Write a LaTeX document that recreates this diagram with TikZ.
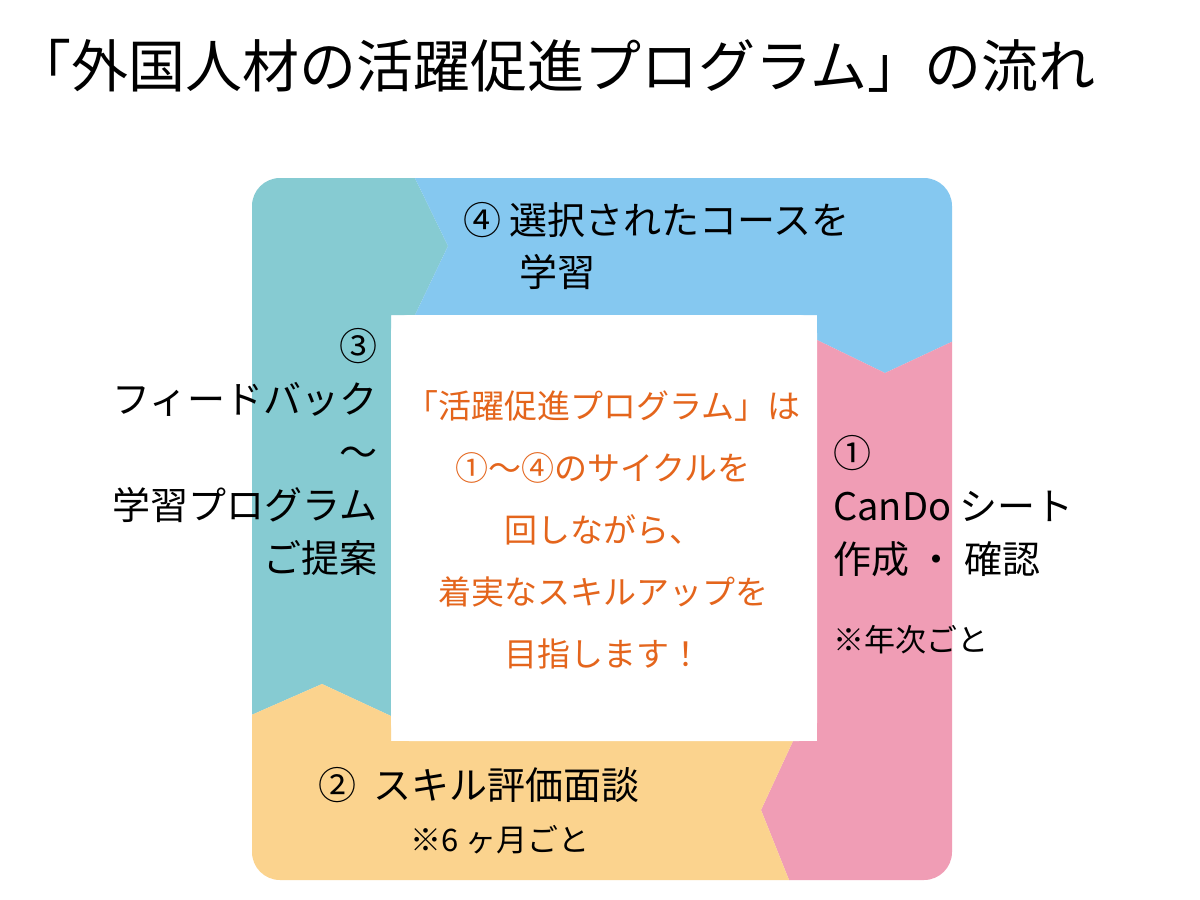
\documentclass[tikz,border=0pt]{standalone}
\usepackage{fontspec}
\setmainfont{Noto Sans CJK JP}
\definecolor{tealseg}{HTML}{86CBD2}
\definecolor{blueseg}{HTML}{85C8F0}
\definecolor{pinkseg}{HTML}{F09DB5}
\definecolor{orangeseg}{HTML}{FBD38E}
\definecolor{msgtext}{HTML}{E4651C}
\tikzset{
  steplabel/.style={font=\fontsize{38}{53}\selectfont, inner sep=0pt},
  notelabel/.style={font=\fontsize{31}{36}\selectfont, inner sep=0pt},
  msglabel/.style={font=\fontsize{33}{62}\selectfont, text=msgtext, align=center, inner sep=0pt}
}
\begin{document}
\begin{tikzpicture}[x=1pt,y=-1pt]
    \useasboundingbox (0,0) rectangle (1200,900);
    \fill[white] (0,0) rectangle (1200,900);

    % Title
    \node[font=\fontsize{57}{60}\selectfont, anchor=west, inner sep=0pt] (title) at (14,66) {「外国人材の活躍促進プログラム」の流れ};

    % Cycle segments
    \begin{scope}
        \clip[rounded corners=28pt] (252,178) rectangle (952,880);
        \fill[tealseg] (240,170) -- (411,170) -- (448,246) -- (415,315) -- (391,315)
            -- (391,716) -- (322,684) -- (240,720) -- cycle;
        \fill[blueseg] (411,170) -- (960,170) -- (960,338) -- (885,373) -- (817,340)
            -- (817,315) -- (415,315) -- (448,246) -- cycle;
        \fill[pinkseg] (960,338) -- (885,373) -- (817,340) -- (817,741) -- (793,741)
            -- (761,810) -- (793,890) -- (960,890) -- cycle;
        \fill[orangeseg] (240,720) -- (322,684) -- (391,716) -- (391,741) -- (793,741)
            -- (761,810) -- (793,890) -- (240,890) -- cycle;
    \end{scope}
    \fill[white, rounded corners=18pt] (391,315) rectangle (817,741);

    % Step labels
    \node[steplabel, anchor=west] (step4) at (463,220) {④ 選択されたコースを};
    \node[steplabel, anchor=west] (step4b) at (519,272) {学習};
    \node[steplabel, anchor=north east, align=right] (step3) at (378,328)
        {③\\フィードバック\\～\\学習プログラム\\ご提案};
    \node[steplabel, anchor=north west, align=left] (step1) at (833,435)
        {①\\CanDo シート\\作成 ・ 確認};
    \node[notelabel, anchor=west] (note1) at (833,640) {※年次ごと};
    \node[steplabel, anchor=west] (step2) at (318,785) {②\ \ スキル評価面談};
    \node[notelabel, anchor=west] (note2) at (410,840) {※6 ヶ月ごと};

    % Centre message
    \node[msglabel] (msg) at (603,530)
        {「活躍促進プログラム」は\\①～④のサイクルを\\回しながら、\\着実なスキルアップを\\目指します！};
\end{tikzpicture}
\end{document}
